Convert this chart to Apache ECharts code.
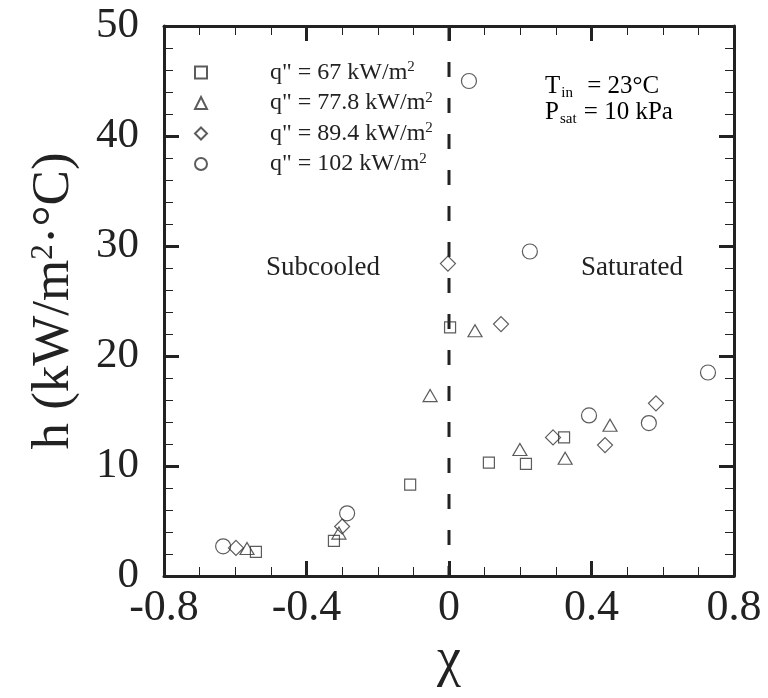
<!DOCTYPE html>
<html><head><meta charset="utf-8">
<script src="https://cdn.jsdelivr.net/npm/echarts@6/dist/echarts.min.js"></script>
<style>html,body{margin:0;padding:0;background:#fff}#c{width:768px;height:698px}</style>
</head><body><div id="c"></div>
<script>
// q" = 67 kW/m2 (squares)
const sqX = [-0.542, -0.323, -0.109, 0.003, 0.112, 0.216, 0.323];
const sqY = [2.2, 3.2, 8.3, 22.6, 10.3, 10.2, 12.6];
// q" = 77.8 kW/m2 (triangles)
const trX = [-0.567, -0.309, -0.053, 0.073, 0.199, 0.326, 0.452];
const trY = [2.5, 3.9, 16.4, 22.3, 11.5, 10.7, 13.7];
// q" = 89.4 kW/m2 (diamonds)
const diX = [-0.598, -0.300, -0.003, 0.146, 0.292, 0.438, 0.581];
const diY = [2.55, 4.5, 28.4, 22.9, 12.6, 11.9, 15.7];
// q" = 102 kW/m2 (circles)
const ciX = [-0.634, -0.286, 0.056, 0.227, 0.393, 0.561, 0.727];
const ciY = [2.7, 5.7, 45.0, 29.5, 14.6, 13.9, 18.5];

const heatFlux = ['67', '77.8', '89.4', '102'];
const xTicks = [-0.8, -0.4, 0, 0.4, 0.8];
const yTicks = [0, 10, 20, 30, 40, 50];
const regionLabels = ['Subcooled', 'Saturated'];

const FONT = '"Liberation Serif", "Times New Roman", serif';
const INK = '#222';

function pairs(xs, ys) { return xs.map((x, i) => [x, ys[i]]); }

const chart = echarts.init(document.getElementById('c'), null, { renderer: 'canvas' });

const axisBase = {
  axisLine: { show: true, onZero: false, lineStyle: { color: INK, width: 3 } },
  axisTick: { show: true, inside: true, length: 15, lineStyle: { color: INK, width: 3 } },
  splitLine: { show: false }
};

const seriesDefs = [
  { name: 's67', symbol: 'rect', size: 11, xs: sqX, ys: sqY },
  { name: 's77', symbol: 'triangle', size: [14, 12], xs: trX, ys: trY },
  { name: 's89', symbol: 'diamond', size: 15, xs: diX, ys: diY },
  { name: 's102', symbol: 'circle', size: 15, xs: ciX, ys: ciY }
];

const option = {
  backgroundColor: '#fff',
  animation: false,
  grid: { left: 164, right: 34, top: 26, bottom: 122, containLabel: false, outerBoundsMode: 'none' },
  legend: {
    data: seriesDefs.map(s => s.name),
    orient: 'vertical',
    left: 189,
    top: 55,
    itemGap: 6,
    itemWidth: 12,
    itemHeight: 12,
    selectedMode: false,
    formatter: name => {
      const i = seriesDefs.findIndex(s => s.name === name);
      return '{g|}{b|q" = ' + heatFlux[i] + ' kW/m}{sup|2}';
    },
    textStyle: {
      fontFamily: FONT, color: INK, fontSize: 24,
      rich: {
        g: { width: 58 },
        b: { fontFamily: FONT, fontSize: 24, color: INK },
        sup: { fontFamily: FONT, fontSize: 15, color: INK, padding: [0, 0, 10, 0] }
      }
    }
  },
  xAxis: [
    Object.assign({}, axisBase, {
      type: 'value', position: 'bottom', min: -0.8, max: 0.8, interval: 0.4,
      minorTick: { show: true, splitNumber: 4, length: 9, lineStyle: { color: INK, width: 1 } },
      axisLabel: {
        show: true, margin: 10, fontFamily: FONT, fontSize: 44, color: INK,
        formatter: v => { const t = xTicks.find(k => Math.abs(k - v) < 1e-6); return t === 0 ? '0' : String(t); }
      },
      name: 'χ', nameLocation: 'middle', nameGap: 58, nameMoveOverlap: false,
      nameTextStyle: { fontFamily: FONT, fontSize: 54, color: INK }
    }),
    Object.assign({}, axisBase, {
      type: 'value', position: 'top', min: -0.8, max: 0.8, interval: 0.4,
      minorTick: { show: true, splitNumber: 4, length: 9, lineStyle: { color: INK, width: 1 } },
      axisLabel: { show: false }
    })
  ],
  yAxis: [
    Object.assign({}, axisBase, {
      type: 'value', position: 'left', min: 0, max: 50, interval: 10,
      minorTick: { show: true, splitNumber: 5, length: 9, lineStyle: { color: INK, width: 1 } },
      axisLabel: {
        show: true, margin: 25, fontFamily: FONT, fontSize: 43, color: INK,
        formatter: v => String(yTicks.find(k => Math.abs(k - v) < 1e-6))
      },
      name: 'h (kW/m{sup|2}·°C)', nameLocation: 'middle', nameGap: 83, nameRotate: 90, nameMoveOverlap: false,
      nameTextStyle: {
        fontFamily: FONT, fontSize: 53, color: INK,
        rich: { sup: { fontFamily: FONT, fontSize: 31, color: INK, padding: [0, 0, 22, 0] } }
      }
    }),
    Object.assign({}, axisBase, {
      type: 'value', position: 'right', min: 0, max: 50, interval: 10,
      minorTick: { show: true, splitNumber: 5, length: 9, lineStyle: { color: INK, width: 1 } },
      axisLabel: { show: false }
    })
  ],
  series: [
    {
      name: 'divider', type: 'line', xAxisIndex: 0, yAxisIndex: 0,
      data: [[0, 50], [0, 0]], symbol: 'none', silent: true, z: 1,
      lineStyle: { color: INK, width: 3, type: [15, 21] }
    }
  ].concat(seriesDefs.map(s => ({
    name: s.name, type: 'scatter', xAxisIndex: 0, yAxisIndex: 0,
    symbol: s.symbol, symbolSize: s.size, z: 3,
    itemStyle: { color: 'rgba(255,255,255,0)', borderColor: '#333', borderWidth: 1.2 },
    data: pairs(s.xs, s.ys)
  }))),
  graphic: [
    { type: 'text', id: 'sub', x: 323, y: 268, style: { text: regionLabels[0], font: '27px ' + FONT, fill: INK, textAlign: 'center', textVerticalAlign: 'middle' } },
    { type: 'text', id: 'sat', x: 632, y: 268, style: { text: regionLabels[1], font: '27px ' + FONT, fill: INK, textAlign: 'center', textVerticalAlign: 'middle' } },
    { type: 'text', id: 'tin', x: 545, y: 86, style: {
        text: '{b|T}{sub|in}{b| = 23°C}', textVerticalAlign: 'middle',
        rich: { b: { fontFamily: FONT, fontSize: 25, color: INK },
                sub: { fontFamily: FONT, fontSize: 15, color: INK, padding: [14, 8, 0, 1] } } } },
    { type: 'text', id: 'psat', x: 545, y: 112, style: {
        text: '{b|P}{sub|sat}{b| = 10 kPa}', textVerticalAlign: 'middle',
        rich: { b: { fontFamily: FONT, fontSize: 25, color: INK },
                sub: { fontFamily: FONT, fontSize: 15, color: INK, padding: [14, 1, 0, 1] } } } }
  ]
};
chart.setOption(option);
</script>
</body></html>
